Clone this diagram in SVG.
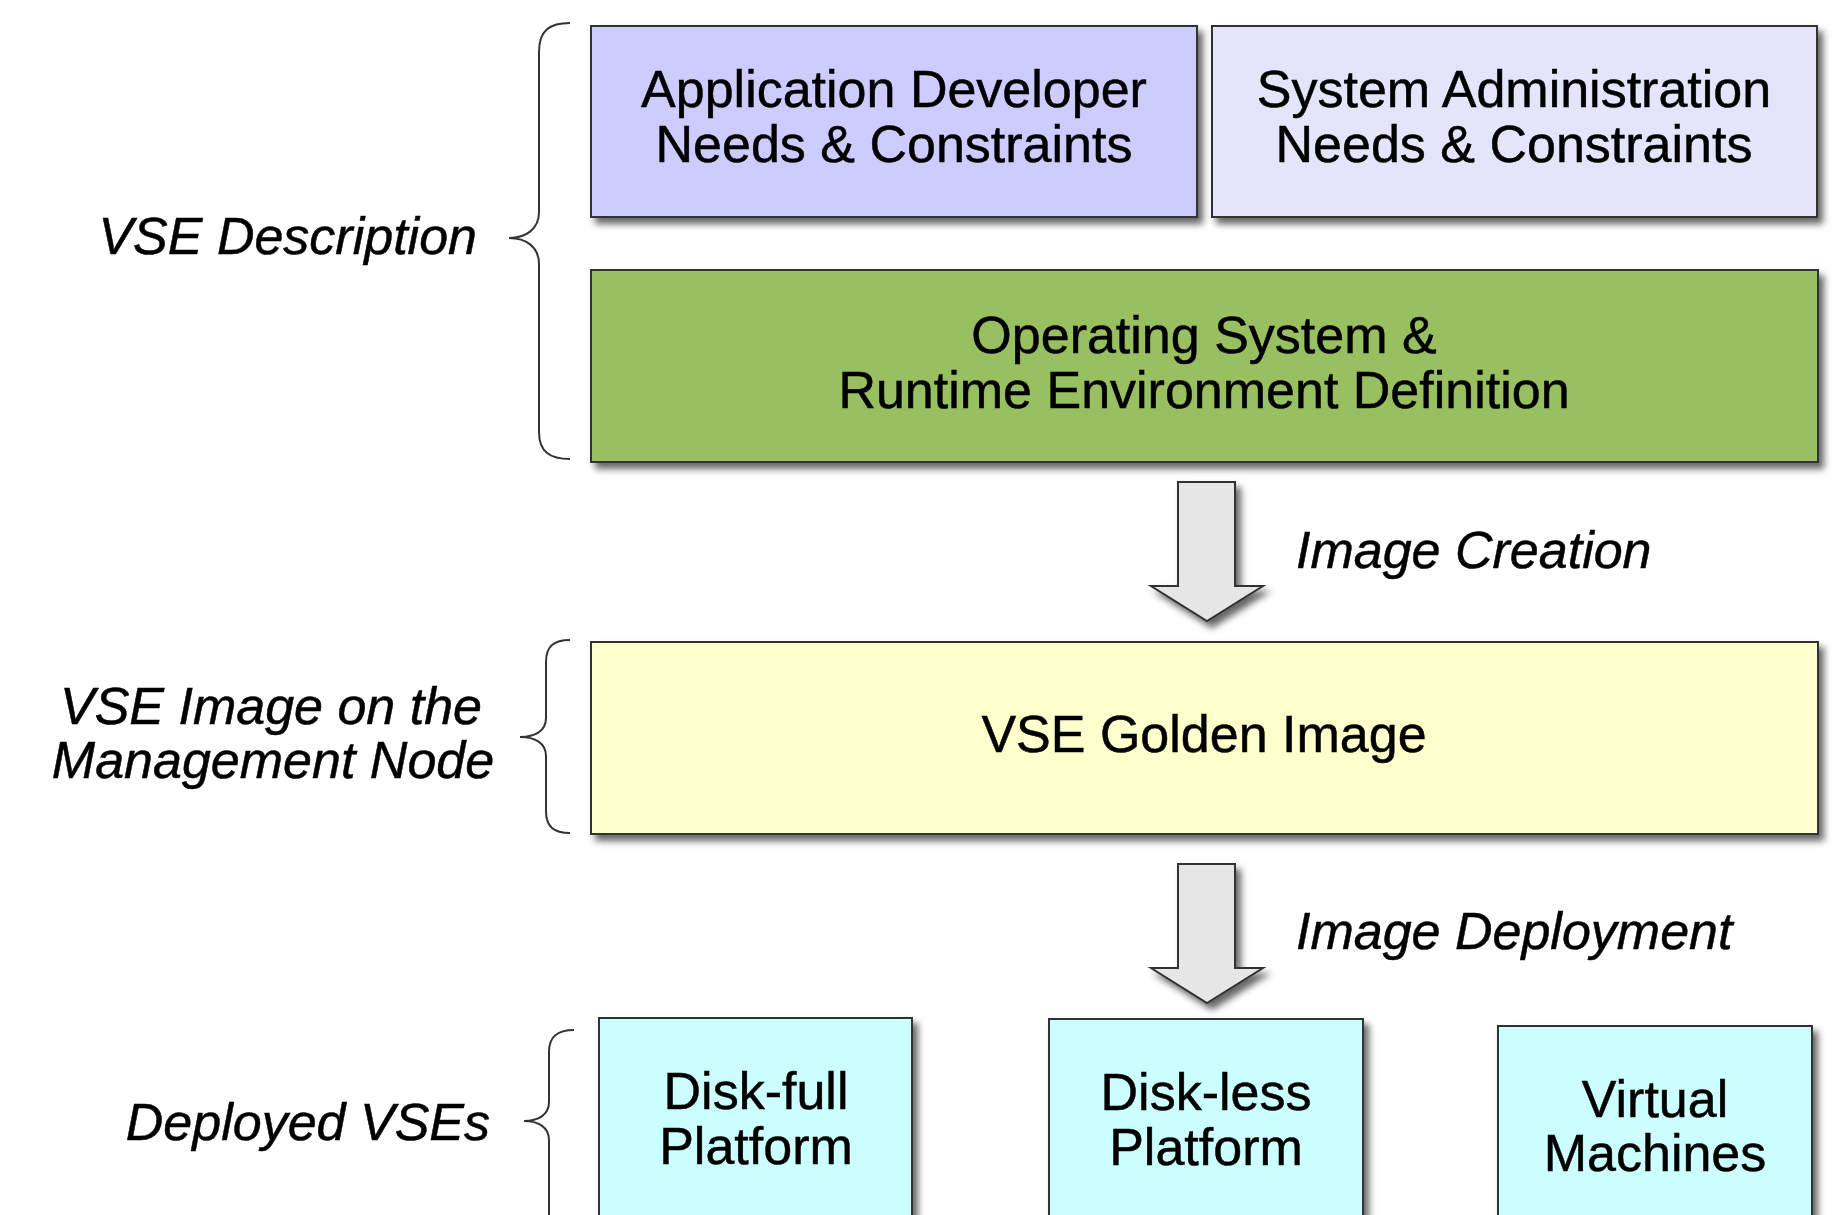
<svg xmlns="http://www.w3.org/2000/svg" width="1836" height="1215" viewBox="0 0 1836 1215">
  <defs>
    <filter id="shadow" x="-5%" y="-5%" width="115%" height="120%">
      <feDropShadow dx="5" dy="6" stdDeviation="3.5" flood-color="#000" flood-opacity="0.6"/>
    </filter>
    <path id="bigArrow" d="M1178,0 L1235,0 L1235,104 L1263,104 L1207,139 L1151,104 L1178,104 Z"/>
  </defs>
  <style>
    .box { stroke: #333; stroke-width: 2; filter: url(#shadow); }
    .t { font-family: "Liberation Sans", Arial, Helvetica, sans-serif; font-size: 52px; fill: #000; stroke: #000; stroke-width: 0.5; text-anchor: middle; }
    .lbl { font-family: "Liberation Sans", Arial, Helvetica, sans-serif; font-size: 52px; font-style: italic; fill: #000; stroke: #000; stroke-width: 0.5; }
    .brace { fill: none; stroke: #333; stroke-width: 2; }
    .arrow { fill: #e6e6e6; stroke: #333; stroke-width: 2; stroke-linejoin: miter; filter: url(#shadow); }
  </style>
  <rect width="1836" height="1215" fill="#fff"/>

  <!-- Layer labels and braces -->
  <g id="label-description">
    <text class="lbl" x="477" y="254" text-anchor="end">VSE Description</text>
    <path class="brace" d="M570,23 C550,23 539,30 539,52 L539,212 C539,229 526,238 509,238 C526,238 539,247 539,264 L539,432 C539,452 550,459 570,459"/>
  </g>
  <g id="label-management">
    <text class="lbl" x="271" y="724" text-anchor="middle">VSE Image on the</text>
    <text class="lbl" x="273" y="778" text-anchor="middle">Management Node</text>
    <path class="brace" d="M570,640 C554,640 546,646 546,662 L546,718 C546,731 535,737 520,737 C535,737 546,743 546,756 L546,811 C546,827 554,833 570,833"/>
  </g>
  <g id="label-deployed">
    <text class="lbl" x="490" y="1140" text-anchor="end">Deployed VSEs</text>
    <path class="brace" d="M574,1030 C558,1030 549,1036 549,1052 L549,1102 C549,1115 538,1121 524,1121 C538,1121 549,1127 549,1140 L549,1230"/>
  </g>

  <!-- Description boxes -->
  <g id="app-developer">
    <rect class="box" x="591" y="26" width="606" height="191" fill="#ccccff"/>
    <text class="t" x="894" y="107">Application Developer</text>
    <text class="t" x="894" y="162">Needs &amp; Constraints</text>
  </g>
  <g id="sys-admin">
    <rect class="box" x="1212" y="26" width="605" height="191" fill="#e4e4fb"/>
    <text class="t" x="1514" y="107">System Administration</text>
    <text class="t" x="1514" y="162">Needs &amp; Constraints</text>
  </g>
  <g id="os-runtime">
    <rect class="box" x="591" y="270" width="1227" height="192" fill="#98bf60"/>
    <text class="t" x="1204" y="353">Operating System &amp;</text>
    <text class="t" x="1204" y="408">Runtime Environment Definition</text>
  </g>

  <!-- Golden image -->
  <g id="golden-image">
    <rect class="box" x="591" y="642" width="1227" height="192" fill="#ffffcc"/>
    <text class="t" x="1204" y="752">VSE Golden Image</text>
  </g>

  <!-- Deployment targets -->
  <g id="disk-full">
    <rect class="box" x="599" y="1018" width="313" height="230" fill="#ccffff"/>
    <text class="t" x="756" y="1109">Disk-full</text>
    <text class="t" x="756" y="1164">Platform</text>
  </g>
  <g id="disk-less">
    <rect class="box" x="1049" y="1019" width="314" height="230" fill="#ccffff"/>
    <text class="t" x="1206" y="1110">Disk-less</text>
    <text class="t" x="1206" y="1165">Platform</text>
  </g>
  <g id="virtual-machines">
    <rect class="box" x="1498" y="1026" width="314" height="230" fill="#ccffff"/>
    <text class="t" x="1655" y="1117">Virtual</text>
    <text class="t" x="1655" y="1171">Machines</text>
  </g>

  <!-- Process arrows -->
  <g id="connectors">
    <use href="#bigArrow" class="arrow" transform="translate(0,482)"/>
    <text class="lbl" x="1296" y="568">Image Creation</text>
    <use href="#bigArrow" class="arrow" transform="translate(0,864)"/>
    <text class="lbl" x="1296" y="949">Image Deployment</text>
  </g>
</svg>
